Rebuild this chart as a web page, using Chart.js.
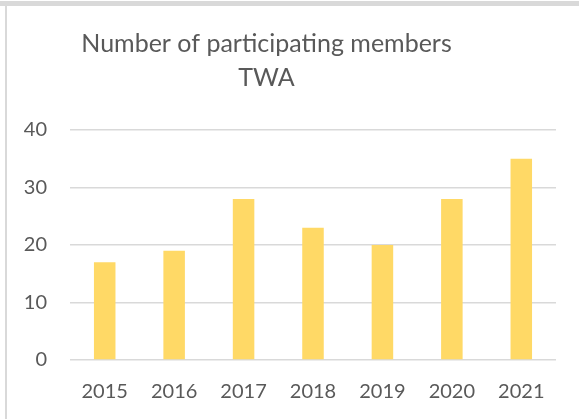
<!DOCTYPE html>
<html>
<head>
<meta charset="utf-8">
<script src="https://cdn.jsdelivr.net/npm/chart.js@4/dist/chart.umd.min.js"></script>
<style>
  html, body { margin: 0; padding: 0; background: #fff; }
  #wrap { width: 579px; height: 419px; position: relative; }
</style>
</head>
<body>
<div id="wrap"><canvas id="c" width="579" height="419"></canvas></div>
<script>
const categories = ["2015", "2016", "2017", "2018", "2019", "2020", "2021"];
const members = [17, 19, 28, 23, 20, 28, 35];
const titleLines = ["Number of participating members", "TWA"];
const yTicks = [0, 10, 20, 30, 40];

const frame = {
  id: 'frame',
  beforeDraw(chart) {
    const ctx = chart.ctx;
    ctx.save();
    ctx.fillStyle = '#fff';
    ctx.fillRect(0, 0, chart.width, chart.height);
    ctx.fillStyle = '#d9d9d9';
    ctx.fillRect(0, 1, chart.width, 5);
    ctx.fillRect(5, 1, 2, chart.height);
    ctx.restore();
  },
  afterLayout(chart) {
    const t = chart.titleBlock;
    if (t) { t.right = t.left + 533; t.width = 533; }
  }
};

new Chart(document.getElementById('c'), {
  type: 'bar',
  data: {
    labels: categories,
    datasets: [{
      data: members,
      backgroundColor: '#FFD966',
      borderWidth: 0,
      categoryPercentage: 1,
      barPercentage: 0.31
    }]
  },
  options: {
    responsive: false,
    animation: false,
    devicePixelRatio: 1,
    layout: { padding: { left: 0, right: 23, top: 0, bottom: 15 } },
    plugins: {
      legend: { display: false },
      tooltip: { enabled: false },
      title: {
        display: true,
        text: titleLines,
        color: '#595959',
        font: { family: 'Lato', size: 25, weight: 'normal', lineHeight: 1.36 },
        padding: { top: 27, bottom: 35 }
      }
    },
    scales: {
      x: {
        afterFit(scale) { scale.height = 44; },
        grid: { display: false, drawTicks: false },
        border: { display: false },
        ticks: { color: '#595959', font: { family: 'Lato', size: 20 }, padding: 20, maxRotation: 0 }
      },
      y: {
        min: 0, max: 40,
        afterBuildTicks(scale) { scale.ticks = yTicks.map(v => ({ value: v })); },
        afterFit(scale) { scale.width = 70; },
        grid: { color: '#d9d9d9', lineWidth: 1.5, drawTicks: false },
        border: { display: false },
        ticks: { color: '#595959', font: { family: 'Lato', size: 20 }, padding: 23 }
      }
    }
  },
  plugins: [frame]
});
</script>
</body>
</html>
